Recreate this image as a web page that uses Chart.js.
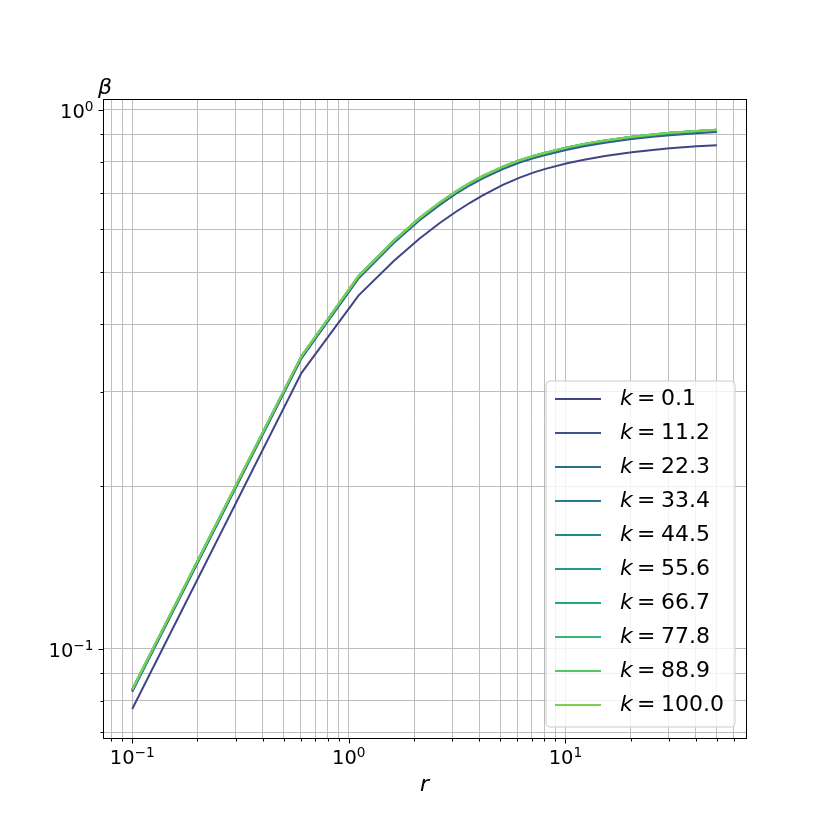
<!DOCTYPE html>
<html>
<head>
<meta charset="utf-8">
<script src="https://cdn.jsdelivr.net/npm/chart.js@4.4.0/dist/chart.umd.min.js"></script>
<style>
  html, body { margin: 0; padding: 0; background: #ffffff; }
  #wrap { width: 830px; height: 830px; position: relative; }
</style>
</head>
<body>
<div id="wrap"><canvas id="c" width="830" height="830"></canvas></div>
<script>
// ---- data ----
const rValues = [0.1, 0.604, 1.108, 1.612, 2.116, 2.62, 3.124, 3.628, 4.132, 5.14, 6.149, 7.157, 8.165, 10.18, 12.2, 15.22, 20.26, 25.3, 30.34, 40.42, 50.0];
const kLabels = ['0.1', '11.2', '22.3', '33.4', '44.5', '55.6', '66.7', '77.8', '88.9', '100.0'];

const betaK0_1  = [0.0773, 0.3246, 0.4520, 0.5240, 0.5763, 0.6157, 0.6469, 0.6721, 0.6929, 0.7254, 0.7485, 0.7653, 0.7776, 0.7956, 0.8079, 0.8205, 0.8339, 0.8422, 0.8480, 0.8552, 0.8596];
const betaK11_2 = [0.0832, 0.3455, 0.4862, 0.5658, 0.6231, 0.6653, 0.6985, 0.7243, 0.7452, 0.7762, 0.7982, 0.8132, 0.8249, 0.8431, 0.8558, 0.8686, 0.8821, 0.8908, 0.8970, 0.9046, 0.9092];
const betaK22_3 = [0.0835, 0.3469, 0.4881, 0.5681, 0.6256, 0.6680, 0.7013, 0.7272, 0.7482, 0.7793, 0.8014, 0.8165, 0.8282, 0.8465, 0.8593, 0.8721, 0.8856, 0.8944, 0.9006, 0.9083, 0.9129];
const betaK33_4 = [0.0837, 0.3476, 0.4891, 0.5692, 0.6269, 0.6693, 0.7027, 0.7287, 0.7497, 0.7809, 0.8030, 0.8181, 0.8299, 0.8482, 0.8610, 0.8738, 0.8874, 0.8962, 0.9024, 0.9101, 0.9147];
const betaK44_5 = [0.0839, 0.3483, 0.4901, 0.5703, 0.6282, 0.6706, 0.7041, 0.7302, 0.7512, 0.7825, 0.8046, 0.8197, 0.8316, 0.8499, 0.8627, 0.8755, 0.8892, 0.8980, 0.9042, 0.9119, 0.9165];
const betaK55_6 = [0.0839, 0.3483, 0.4901, 0.5703, 0.6282, 0.6706, 0.7041, 0.7302, 0.7512, 0.7825, 0.8046, 0.8197, 0.8316, 0.8499, 0.8627, 0.8755, 0.8892, 0.8980, 0.9042, 0.9119, 0.9165];
const betaK66_7 = [0.0840, 0.3490, 0.4911, 0.5715, 0.6294, 0.6720, 0.7055, 0.7316, 0.7527, 0.7840, 0.8062, 0.8214, 0.8332, 0.8516, 0.8644, 0.8773, 0.8909, 0.8998, 0.9060, 0.9137, 0.9184];
const betaK77_8 = [0.0840, 0.3490, 0.4911, 0.5715, 0.6294, 0.6720, 0.7055, 0.7316, 0.7527, 0.7840, 0.8062, 0.8214, 0.8332, 0.8516, 0.8644, 0.8773, 0.8909, 0.8998, 0.9060, 0.9137, 0.9184];
const betaK88_9 = [0.0840, 0.3490, 0.4911, 0.5715, 0.6294, 0.6720, 0.7055, 0.7316, 0.7527, 0.7840, 0.8062, 0.8214, 0.8332, 0.8516, 0.8644, 0.8773, 0.8909, 0.8998, 0.9060, 0.9137, 0.9184];
const betaK100  = [0.0840, 0.3490, 0.4911, 0.5715, 0.6294, 0.6720, 0.7055, 0.7316, 0.7527, 0.7840, 0.8062, 0.8214, 0.8332, 0.8516, 0.8644, 0.8773, 0.8909, 0.8998, 0.9060, 0.9137, 0.9184];

const xTickValues = [0.08, 0.09, 0.1, 0.2, 0.3, 0.4, 0.5, 0.6, 0.7, 0.8, 0.9, 1, 2, 3, 4, 5, 6, 7, 8, 9, 10, 20, 30, 40, 50, 60];
const yTickValues = [0.07, 0.08, 0.09, 0.1, 0.2, 0.3, 0.4, 0.5, 0.6, 0.7, 0.8, 0.9, 1];
const xLabelValues = [0.1, 1, 10];
const xLabelExponents = ['\u22121', '0', '1'];
const yLabelValues = [0.1, 1];
const yLabelExponents = ['\u22121', '0'];

// ---- styles ----
const seriesColors = ['#414487', '#3b528b', '#31688e', '#2a788e', '#23888e', '#1f998a', '#22a884', '#35b779', '#54c568', '#7ad151'];
const allBeta = [betaK0_1, betaK11_2, betaK22_3, betaK33_4, betaK44_5, betaK55_6, betaK66_7, betaK77_8, betaK88_9, betaK100];
const FONT = "'DejaVu Sans', 'Liberation Sans', sans-serif";
const TICK_FONT = 19.5, SUP_FONT = 13.7;

function isMajor(v) {
  const l = Math.log10(v);
  return Math.abs(l - Math.round(l)) < 1e-9;
}

const datasets = allBeta.map((arr, i) => ({
  label: 'k = ' + kLabels[i],
  data: rValues.map((r, j) => ({ x: r, y: arr[j] })),
  borderColor: seriesColors[i],
  backgroundColor: seriesColors[i],
  borderWidth: 2,
  pointRadius: 0,
  tension: 0,
  fill: false,
  order: -i
}));

function drawPow(ctx, exp, x, baseY, align) {
  ctx.font = TICK_FONT + 'px ' + FONT;
  const w1 = ctx.measureText('10').width;
  ctx.font = SUP_FONT + 'px ' + FONT;
  const w2 = ctx.measureText(exp).width;
  const total = w1 + w2;
  const x0 = align === 'center' ? x - total / 2 : x - total;
  ctx.textAlign = 'left';
  ctx.textBaseline = 'alphabetic';
  ctx.font = TICK_FONT + 'px ' + FONT;
  ctx.fillText('10', x0, baseY);
  ctx.font = SUP_FONT + 'px ' + FONT;
  ctx.fillText(exp, x0 + w1, baseY - 7);
}

const decorPlugin = {
  id: 'decor',
  afterDraw(chart) {
    const ctx = chart.ctx;
    const a = chart.chartArea;
    const xs = chart.scales.x, ys = chart.scales.y;
    ctx.save();
    // tick marks
    ctx.strokeStyle = '#000';
    ctx.lineWidth = 1;
    ctx.beginPath();
    xTickValues.forEach(v => {
      const px = Math.round(xs.getPixelForValue(v)) + 0.5;
      const len = isMajor(v) ? 5 : 3;
      ctx.moveTo(px, Math.round(a.bottom) + 0.5);
      ctx.lineTo(px, Math.round(a.bottom) + 0.5 + len);
    });
    yTickValues.forEach(v => {
      const py = Math.round(ys.getPixelForValue(v)) + 0.5;
      const len = isMajor(v) ? 5 : 3;
      ctx.moveTo(Math.round(a.left) + 0.5, py);
      ctx.lineTo(Math.round(a.left) + 0.5 - len, py);
    });
    ctx.stroke();
    // frame
    ctx.strokeRect(Math.round(a.left) + 0.5, Math.round(a.top) + 0.5, Math.round(a.right) - Math.round(a.left), Math.round(a.bottom) - Math.round(a.top));

    // tick labels
    ctx.fillStyle = '#000';
    xLabelValues.forEach((v, i) => {
      drawPow(ctx, xLabelExponents[i], xs.getPixelForValue(v), a.bottom + 26, 'center');
    });
    yLabelValues.forEach((v, i) => {
      drawPow(ctx, yLabelExponents[i], a.left - 9.5, ys.getPixelForValue(v) + 8.5, 'right');
    });

    // axis labels
    ctx.font = 'italic 22px ' + FONT;
    ctx.textAlign = 'center';
    ctx.textBaseline = 'alphabetic';
    ctx.fillText('r', (a.left + a.right) / 2, 791);
    ctx.fillText('\u03B2', 105, 94);

    // legend
    const bx = 546, by = 381, bw = 189, bh = 346, rad = 4;
    ctx.beginPath();
    ctx.moveTo(bx + rad, by);
    ctx.lineTo(bx + bw - rad, by);
    ctx.quadraticCurveTo(bx + bw, by, bx + bw, by + rad);
    ctx.lineTo(bx + bw, by + bh - rad);
    ctx.quadraticCurveTo(bx + bw, by + bh, bx + bw - rad, by + bh);
    ctx.lineTo(bx + rad, by + bh);
    ctx.quadraticCurveTo(bx, by + bh, bx, by + bh - rad);
    ctx.lineTo(bx, by + rad);
    ctx.quadraticCurveTo(bx, by, bx + rad, by);
    ctx.closePath();
    ctx.fillStyle = 'rgba(255,255,255,0.8)';
    ctx.fill();
    ctx.strokeStyle = '#cccccc';
    ctx.lineWidth = 1;
    ctx.stroke();

    chart.data.datasets.forEach((ds, i) => {
      const cy = 399 + i * 34;
      ctx.strokeStyle = ds.borderColor;
      ctx.lineWidth = 2;
      ctx.beginPath();
      ctx.moveTo(555, cy);
      ctx.lineTo(601, cy);
      ctx.stroke();
      ctx.fillStyle = '#000';
      ctx.textAlign = 'left';
      ctx.textBaseline = 'middle';
      ctx.font = 'italic 22px ' + FONT;
      ctx.fillText('k', 620, cy);
      ctx.font = '22px ' + FONT;
      ctx.fillText('=', 637, cy);
      ctx.fillText(kLabels[i], 661, cy);
    });
    ctx.restore();
  }
};

new Chart(document.getElementById('c'), {
  type: 'line',
  data: { datasets },
  options: {
    responsive: false,
    animation: false,
    devicePixelRatio: 1,
    layout: { padding: { left: 0, top: 99, right: 84, bottom: 0 } },
    plugins: { legend: { display: false }, tooltip: { enabled: false } },
    scales: {
      x: {
        type: 'logarithmic',
        min: 0.0733,
        max: 68.2,
        afterBuildTicks: s => { s.ticks = xTickValues.map(v => ({ value: v })); },
        afterFit: s => { s.height = 92; },
        grid: { color: '#bdbdbd', lineWidth: 1, drawTicks: false },
        border: { display: false },
        ticks: { display: false, autoSkip: false }
      },
      y: {
        type: 'logarithmic',
        min: 0.0683,
        max: 1.047,
        afterBuildTicks: s => { s.ticks = yTickValues.map(v => ({ value: v })); },
        afterFit: s => { s.width = 103; },
        grid: { color: '#bdbdbd', lineWidth: 1, drawTicks: false },
        border: { display: false },
        ticks: { display: false, autoSkip: false }
      }
    }
  },
  plugins: [decorPlugin]
});
</script>
</body>
</html>
